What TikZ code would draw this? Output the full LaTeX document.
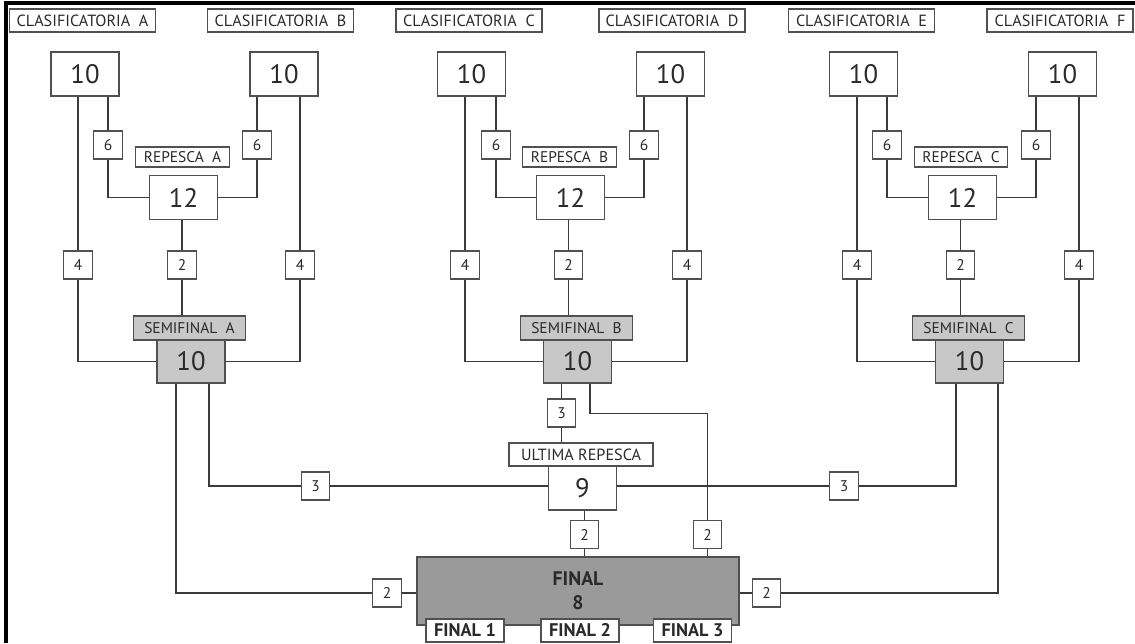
\documentclass[tikz,border=0pt]{standalone}
\usepackage{fontspec}
\setmainfont{PT Sans}
\definecolor{ln}{HTML}{3A3A3A}
\definecolor{bx}{HTML}{505050}
\definecolor{semigray}{HTML}{C8C8C8}
\definecolor{fingray}{HTML}{9A9A9A}
\definecolor{txt}{HTML}{2A2A2A}
\begin{document}
\begin{tikzpicture}[x=0.025cm, y=-0.025cm, line width=0.8pt,
  base/.style={draw=bx, fill=white, inner sep=0pt, text=txt},
  head/.style={base, minimum width=3.65cm, minimum height=0.575cm, font=\fontsize{11.5}{13}\selectfont},
  heat/.style={base, minimum width=1.7cm, minimum height=1.1cm, font=\fontsize{19}{21}\selectfont},
  num/.style={base, minimum width=0.72cm, minimum height=0.7cm, font=\fontsize{11}{12}\selectfont},
  rep/.style={base, minimum width=2.33cm, minimum height=0.5cm, font=\fontsize{11}{12}\selectfont},
  semi/.style={base, fill=semigray, minimum width=2.78cm, minimum height=0.6cm, font=\fontsize{11}{12}\selectfont},
  semibox/.style={heat, fill=semigray, minimum height=1.075cm},
  finbox/.style={base, fill=fingray, minimum width=8.05cm, minimum height=1.7cm, align=center, font=\bfseries\fontsize{14}{17}\selectfont},
  finsub/.style={base, minimum width=1.95cm, minimum height=0.575cm, font=\bfseries\fontsize{13}{14}\selectfont},
  conn/.style={draw=ln}]
  \useasboundingbox (0,0) rectangle (1135,643);
  % frame
  \draw[line width=2.2pt] (4,3) -- (1135,3);
  \draw[line width=2.6pt] (6,3) -- (6,643);
  % qualifying heats
  \node[head] (tA) at (82.5,20.5) {CLASIFICATORIA\ \ A};
  \node[head] (tB) at (280.5,20.5) {CLASIFICATORIA\ \ B};
  \node[head] (tC) at (469,20.5) {CLASIFICATORIA\ \ C};
  \node[head] (tD) at (672,20.5) {CLASIFICATORIA\ \ D};
  \node[head] (tE) at (861.5,20.5) {CLASIFICATORIA\ \ E};
  \node[head] (tF) at (1060,20.5) {CLASIFICATORIA\ \ F};
  \node[heat] (hA) at (85,74) {10};
  \node[heat] (hB) at (284,74) {10};
  \node[heat] (hC) at (471.5,74) {10};
  \node[heat] (hD) at (670.5,74) {10};
  \node[heat] (hE) at (863.5,74) {10};
  \node[heat] (hF) at (1062.5,74) {10};
  \node[num] (sixA) at (108,145) {6};
  \node[num] (sixB) at (257,145) {6};
  \node[num] (sixC) at (496,145) {6};
  \node[num] (sixD) at (644,145) {6};
  \node[num] (sixE) at (887,145) {6};
  \node[num] (sixF) at (1036,145) {6};
  % repechages
  \node[rep] (repA) at (182.5,157) {REPESCA\ \ A};
  \node[rep] (repB) at (569.5,157) {REPESCA\ \ B};
  \node[rep] (repC) at (961,157) {REPESCA\ \ C};
  \node[heat] (rA) at (183.5,197.5) {12};
  \node[heat] (rB) at (570.5,197.5) {12};
  \node[heat] (rC) at (962.5,197.5) {12};
  \node[num] (fourA) at (78,265) {4};
  \node[num] (fourB) at (300,265) {4};
  \node[num] (fourC) at (465,265) {4};
  \node[num] (fourD) at (687,265) {4};
  \node[num] (fourE) at (857,265) {4};
  \node[num] (fourF) at (1079,265) {4};
  \node[num] (twoA) at (182,265) {2};
  \node[num] (twoB) at (568.5,265) {2};
  \node[num] (twoC) at (960.5,265) {2};
  % semifinals
  \node[semi] (semiA) at (189.5,328) {SEMIFINAL\ \ A};
  \node[semi] (semiB) at (576.5,328) {SEMIFINAL\ \ B};
  \node[semi] (semiC) at (968.5,328) {SEMIFINAL\ \ C};
  \node[semibox] (sfA) at (191,361.5) {10};
  \node[semibox] (sfB) at (577.5,361.5) {10};
  \node[semibox] (sfC) at (969.5,361.5) {10};
  % last repechage and final
  \node[num] (thrA) at (315.5,486) {3};
  \node[num] (thrB) at (561.5,413) {3};
  \node[num] (thrC) at (844,486) {3};
  \node[head, minimum width=3.6cm] (ult) at (581,454.5) {ULTIMA REPESCA};
  \node[heat] (u9) at (582.5,488) {9};
  \node[num] (fwA) at (387,593) {2};
  \node[num] (fwU) at (584.5,534.5) {2};
  \node[num] (fwB) at (707.5,534.5) {2};
  \node[num] (fwC) at (766.5,593) {2};
  \node[finbox] (fin) at (578,591) {FINAL\\8};
  \node[finsub] (f1) at (465,630.5) {FINAL 1};
  \node[finsub] (f2) at (580,630.5) {FINAL 2};
  \node[finsub] (f3) at (692.5,630.5) {FINAL 3};
  % heats to repechages and semifinals
  \draw[conn] (fourA) -- (fourA |- hA.south);
  \draw[conn] (sixA) -- (sixA |- hA.south);
  \draw[conn] (sixB) -- (sixB |- hB.south);
  \draw[conn] (fourB) -- (fourB |- hB.south);
  \draw[conn] (fourC) -- (fourC |- hC.south);
  \draw[conn] (sixC) -- (sixC |- hC.south);
  \draw[conn] (sixD) -- (sixD |- hD.south);
  \draw[conn] (fourD) -- (fourD |- hD.south);
  \draw[conn] (fourE) -- (fourE |- hE.south);
  \draw[conn] (sixE) -- (sixE |- hE.south);
  \draw[conn] (sixF) -- (sixF |- hF.south);
  \draw[conn] (fourF) -- (fourF |- hF.south);
  \draw[conn] (sixA) |- (rA);
  \draw[conn] (sixB) |- (rA);
  \draw[conn] (sixC) |- (rB);
  \draw[conn] (sixD) |- (rB);
  \draw[conn] (sixE) |- (rC);
  \draw[conn] (sixF) |- (rC);
  \draw[conn] (twoA) -- (twoA |- rA.south);
  \draw[conn] (twoB) -- (twoB |- rB.south);
  \draw[conn] (twoC) -- (twoC |- rC.south);
  \draw[conn] (twoA) -- (twoA |- semiA.north);
  \draw[conn] (twoB) -- (twoB |- semiB.north);
  \draw[conn] (twoC) -- (twoC |- semiC.north);
  \draw[conn] (fourA) |- (sfA);
  \draw[conn] (fourB) |- (sfA);
  \draw[conn] (fourC) |- (sfB);
  \draw[conn] (fourD) |- (sfB);
  \draw[conn] (fourE) |- (sfC);
  \draw[conn] (fourF) |- (sfC);
  % semifinals to last repechage and final
  \draw[conn] (thrA) -| ([xshift=0.45cm]sfA.south);
  \draw[conn] (thrA) -- (thrA -| u9.west);
  \draw[conn] (thrC) -| ([xshift=-0.3375cm]sfC.south);
  \draw[conn] (thrC) -- (thrC -| u9.east);
  \draw[conn] (thrB) -- (thrB |- sfB.south);
  \draw[conn] (thrB) -- (thrB |- ult.north);
  \draw[conn] (fwU) -- (fwU |- u9.south);
  \draw[conn] (fwU) -- (fwU |- fin.north);
  \draw[conn] ([xshift=0.3125cm]sfB.south) -- ++(0,30) -| (fwB.north);
  \draw[conn] (fwB) -- (fwB |- fin.north);
  \draw[conn] (fwA) -| ([xshift=-0.375cm]sfA.south);
  \draw[conn] (fwA) -- (fwA -| fin.west);
  \draw[conn] (fwC) -| ([xshift=0.7125cm]sfC.south);
  \draw[conn] (fwC) -- (fwC -| fin.east);
\end{tikzpicture}
\end{document}
